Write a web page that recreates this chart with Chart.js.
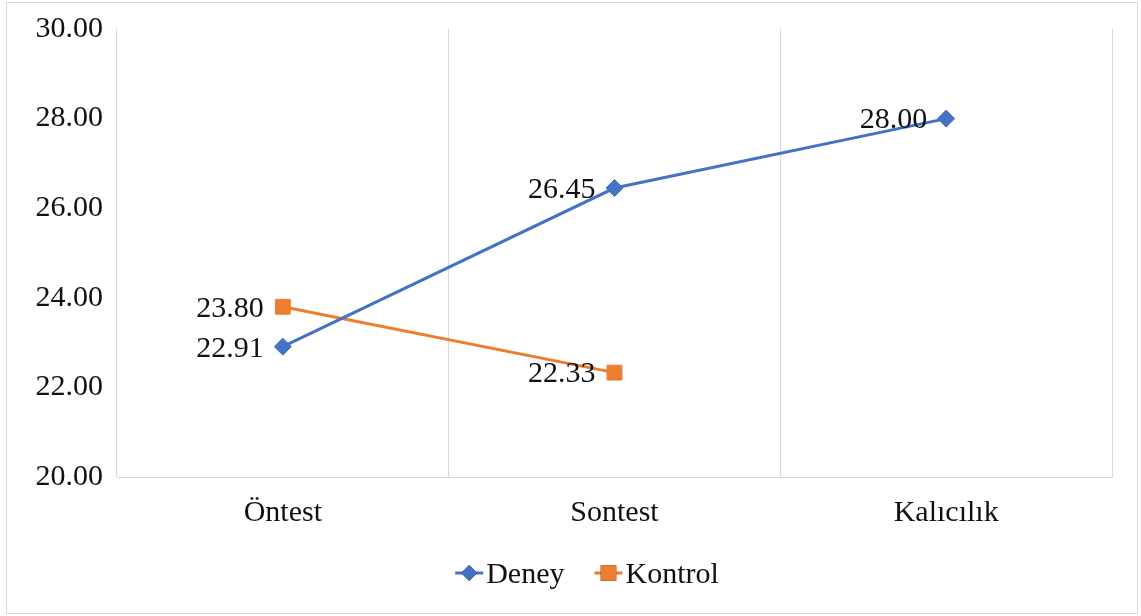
<!DOCTYPE html>
<html>
<head>
<meta charset="utf-8">
<script src="https://cdn.jsdelivr.net/npm/chart.js@4"></script>
<style>
  html, body { margin: 0; padding: 0; background: #fff; }
  #wrap { position: relative; width: 1141px; height: 616px; }
  #frame { position: absolute; left: 6px; top: 2px; width: 1130px; height: 610px; border: 1px solid #d9d9d9; pointer-events: none; }
  canvas { position: absolute; left: 0; top: 0; }
</style>
</head>
<body>
<div id="wrap">
  <canvas id="c" width="1141" height="616"></canvas>
  <div id="frame"></div>
</div>
<script>
const categories = ["Öntest", "Sontest", "Kalıcılık"];
const deneyValues = [22.91, 26.45, 28.00];
const kontrolValues = [23.80, 22.33, null];
const seriesNames = ["Deney", "Kontrol"];
const yMin = 20, yMax = 30, yStep = 2;

const FONT = "'Liberation Serif', 'Times New Roman', serif";
const FSIZE = 30;
const TEXT = "#111";

const labelPlugin = {
  id: 'pointLabels',
  afterDatasetsDraw(chart) {
    const ctx = chart.ctx;
    ctx.save();
    ctx.font = FSIZE + "px " + FONT;
    ctx.fillStyle = TEXT;
    ctx.textAlign = "right";
    ctx.textBaseline = "middle";
    chart.data.datasets.forEach((ds, i) => {
      const meta = chart.getDatasetMeta(i);
      meta.data.forEach((pt, j) => {
        const v = ds.data[j];
        if (v === null || v === undefined) return;
        ctx.fillText(v.toFixed(2), pt.x - 19, pt.y + 2);
      });
    });
    ctx.restore();
  }
};

// Legend drawn like the source: short line with marker, then the name
const legendPlugin = {
  id: 'customLegend',
  afterDraw(chart) {
    const ctx = chart.ctx;
    ctx.save();
    ctx.font = FSIZE + "px " + FONT;
    const lineW = 28, gapText = 3, itemGap = 30, cy = 573;
    const dsets = chart.data.datasets;
    const widths = dsets.map(d => lineW + gapText + ctx.measureText(d.label).width);
    const total = widths.reduce((a, b) => a + b, 0) + itemGap * (dsets.length - 1);
    let x = 587 - total / 2;
    dsets.forEach((d, i) => {
      ctx.strokeStyle = d.borderColor;
      ctx.lineWidth = 3;
      ctx.beginPath();
      ctx.moveTo(x, cy);
      ctx.lineTo(x + lineW, cy);
      ctx.stroke();
      Chart.helpers.drawPoint(ctx, {
        pointStyle: d.pointStyle,
        radius: d.pointStyle === 'rect' ? 11 : 8,
        rotation: 0,
        borderWidth: 0
      }, x + lineW / 2, cy);
      ctx.fillStyle = d.backgroundColor;
      ctx.fill();
      ctx.fillStyle = TEXT;
      ctx.textAlign = "left";
      ctx.textBaseline = "middle";
      ctx.fillText(d.label, x + lineW + gapText, cy + 2);
      x += widths[i] + itemGap;
    });
    ctx.restore();
  }
};

new Chart(document.getElementById('c'), {
  type: 'line',
  data: {
    labels: categories,
    datasets: [
      {
        label: seriesNames[0],
        data: deneyValues,
        borderColor: '#4472C4',
        backgroundColor: '#4472C4',
        borderWidth: 3,
        pointStyle: 'rectRot',
        pointRadius: 8.5,
        pointHoverRadius: 8.5,
        pointBorderWidth: 1,
        tension: 0
      },
      {
        label: seriesNames[1],
        data: kontrolValues,
        borderColor: '#ED7D31',
        backgroundColor: '#ED7D31',
        borderWidth: 3,
        pointStyle: 'rect',
        pointRadius: 10.5,
        pointHoverRadius: 10.5,
        pointBorderWidth: 1,
        tension: 0,
        spanGaps: false
      }
    ]
  },
  options: {
    responsive: false,
    animation: false,
    devicePixelRatio: 1,
    layout: { padding: { left: 0, right: 29, top: 15, bottom: 71 } },
    plugins: {
      tooltip: { enabled: false },
      legend: { display: false }
    },
    scales: {
      x: {
        offset: true,
        grid: { display: true, offset: true, color: '#d9d9d9', lineWidth: 1, drawTicks: false },
        border: { display: true, color: '#d9d9d9', width: 1 },
        ticks: { color: TEXT, padding: 18, font: { family: FONT, size: FSIZE } },
        afterFit(axis) { axis.height = 68; }
      },
      y: {
        min: yMin,
        max: yMax,
        grid: { display: false, drawTicks: false },
        border: { display: false },
        ticks: {
          stepSize: yStep,
          color: TEXT,
          padding: 14,
          font: { family: FONT, size: FSIZE, lineHeight: 1 },
          callback: (v) => Number(v).toFixed(2)
        },
        afterFit(axis) { axis.width = 117; }
      }
    }
  },
  plugins: [labelPlugin, legendPlugin]
});
</script>
</body>
</html>
